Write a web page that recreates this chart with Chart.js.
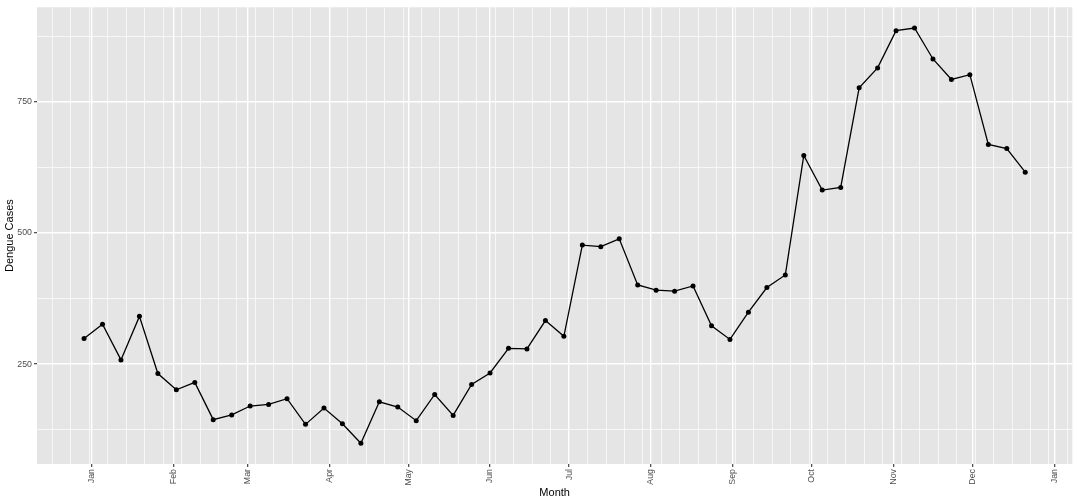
<!DOCTYPE html>
<html>
<head>
<meta charset="utf-8">
<script src="https://cdn.jsdelivr.net/npm/chart.js@4.4.1/dist/chart.umd.min.js"></script>
<style>
  html, body { margin: 0; padding: 0; background: #ffffff; }
  #wrap { width: 1080px; height: 504px; position: relative; }
</style>
</head>
<body>
<div id="wrap"><canvas id="dengueChart"></canvas></div>
<script>
// ===============================
// Weekly dengue cases (ggplot look)
// ===============================

const weekStart = [
    "2013-12-29", "2014-01-05", "2014-01-12", "2014-01-19", "2014-01-26",
    "2014-02-02", "2014-02-09", "2014-02-16", "2014-02-23", "2014-03-02",
    "2014-03-09", "2014-03-16", "2014-03-23", "2014-03-30", "2014-04-06",
    "2014-04-13", "2014-04-20", "2014-04-27", "2014-05-04", "2014-05-11",
    "2014-05-18", "2014-05-25", "2014-06-01", "2014-06-08", "2014-06-15",
    "2014-06-22", "2014-06-29", "2014-07-06", "2014-07-13", "2014-07-20",
    "2014-07-27", "2014-08-03", "2014-08-10", "2014-08-17", "2014-08-24",
    "2014-08-31", "2014-09-07", "2014-09-14", "2014-09-21", "2014-09-28",
    "2014-10-05", "2014-10-12", "2014-10-19", "2014-10-26", "2014-11-02",
    "2014-11-09", "2014-11-16", "2014-11-23", "2014-11-30", "2014-12-07",
    "2014-12-14", "2014-12-21"
];

const cases = [
    299, 326, 258, 341, 232, 201, 215, 144, 153, 170,
    173, 184, 135, 166, 136, 99, 178, 168, 142, 192,
    152, 211, 233, 280, 279, 333, 303, 477, 474, 489,
    401, 391, 389, 399, 323, 297, 349, 396, 420, 648,
    582, 587, 777, 815, 886, 891, 832, 793, 802, 669,
    661, 616
];

const monthBreaks = [
    "2014-01-01", "2014-02-01", "2014-03-01", "2014-04-01", "2014-05-01",
    "2014-06-01", "2014-07-01", "2014-08-01", "2014-09-01", "2014-10-01",
    "2014-11-01", "2014-12-01", "2015-01-01"
];
const monthLabels = ["Jan", "Feb", "Mar", "Apr", "May", "Jun", "Jul",
                     "Aug", "Sep", "Oct", "Nov", "Dec", "Jan"];

const yMajor = [250, 500, 750];
const yMinor = [125, 375, 625, 875];

// days since 2014-01-01
const origin = Date.UTC(2014, 0, 1);
const toDay = (s) => (new Date(s + "T00:00:00Z").getTime() - origin) / 86400000;

const points = weekStart.map((d, i) => ({ x: toDay(d), y: cases[i] }));
const majorDays = monthBreaks.map(toDay);

// ggplot style 5% expansion
const xs = points.map(p => p.x);
const xSpan = Math.max(...xs) - Math.min(...xs);
const xMin = Math.min(...xs) - 0.05 * xSpan;
const xMax = Math.max(...xs) + 0.05 * xSpan;
const ySpan = Math.max(...cases) - Math.min(...cases);
const yMin = Math.min(...cases) - 0.05 * ySpan;
const yMax = Math.max(...cases) + 0.05 * ySpan;

// weekly minor grid lines
const minorDays = [];
for (let d = toDay("2013-12-17"); d <= xMax; d += 7) {
    if (d >= xMin && !majorDays.includes(d)) minorDays.push(d);
}

const isMajorX = (v) => majorDays.includes(v);
const isMajorY = (v) => yMajor.includes(v);

const panelBg = {
    id: "panelBg",
    beforeDraw(chart) {
        const { ctx, chartArea: a } = chart;
        ctx.save();
        ctx.fillStyle = "#ffffff";
        ctx.fillRect(0, 0, chart.width, chart.height);
        ctx.fillStyle = "#E5E5E5";
        ctx.fillRect(a.left, a.top, a.right - a.left, a.bottom - a.top);
        ctx.restore();
    }
};

const tickFont = { family: "'Liberation Sans', Arial, sans-serif", size: 8.8 };
const titleFont = { family: "'Liberation Sans', Arial, sans-serif", size: 11 };

new Chart(document.getElementById("dengueChart"), {
    type: "line",
    data: {
        datasets: [{
            data: points,
            borderColor: "#000000",
            backgroundColor: "#000000",
            borderWidth: 1.3,
            pointRadius: 2.5,
            pointBackgroundColor: "#000000",
            pointBorderWidth: 0,
            tension: 0,
            fill: false
        }]
    },
    options: {
        responsive: true,
        maintainAspectRatio: false,
        animation: false,
        layout: {
            padding: { left: 0, right: 5, top: 5, bottom: 0 }
        },
        plugins: {
            legend: { display: false },
            tooltip: { enabled: false }
        },
        scales: {
            x: {
                type: "linear",
                min: xMin,
                max: xMax,
                afterBuildTicks(axis) {
                    axis.ticks = majorDays.concat(minorDays)
                        .sort((a, b) => a - b)
                        .map(v => ({ value: v }));
                },
                afterFit(axis) { axis.height = 40; },
                border: { display: false },
                grid: {
                    color: "#ffffff",
                    lineWidth: (c) => isMajorX(c.tick.value) ? 1.4 : 0.7,
                    drawTicks: true,
                    tickLength: 3,
                    tickWidth: 1.1,
                    tickColor: (c) => isMajorX(c.tick.value) ? "#333333" : "rgba(0,0,0,0)"
                },
                ticks: {
                    autoSkip: false,
                    minRotation: 90,
                    maxRotation: 90,
                    padding: 2,
                    color: "#4D4D4D",
                    font: tickFont,
                    callback: (v) => {
                        const i = majorDays.indexOf(v);
                        return i >= 0 ? monthLabels[i] : "";
                    }
                },
                title: {
                    display: true,
                    text: "Month",
                    color: "#000000",
                    font: titleFont,
                    padding: { top: 0, bottom: 4 }
                }
            },
            y: {
                type: "linear",
                min: yMin,
                max: yMax,
                afterBuildTicks(axis) {
                    axis.ticks = yMajor.concat(yMinor)
                        .sort((a, b) => a - b)
                        .map(v => ({ value: v }));
                },
                afterFit(axis) { axis.width = 37; },
                border: { display: false },
                grid: {
                    color: "#ffffff",
                    lineWidth: (c) => isMajorY(c.tick.value) ? 1.4 : 0.7,
                    drawTicks: true,
                    tickLength: 3,
                    tickWidth: 1.1,
                    tickColor: (c) => isMajorY(c.tick.value) ? "#333333" : "rgba(0,0,0,0)"
                },
                ticks: {
                    padding: 2,
                    color: "#4D4D4D",
                    font: tickFont,
                    callback: (v) => isMajorY(v) ? String(v) : ""
                },
                title: {
                    display: true,
                    text: "Dengue Cases",
                    color: "#000000",
                    font: titleFont,
                    padding: { top: 3, bottom: 0 }
                }
            }
        }
    },
    plugins: [panelBg]
});
</script>
</body>
</html>
